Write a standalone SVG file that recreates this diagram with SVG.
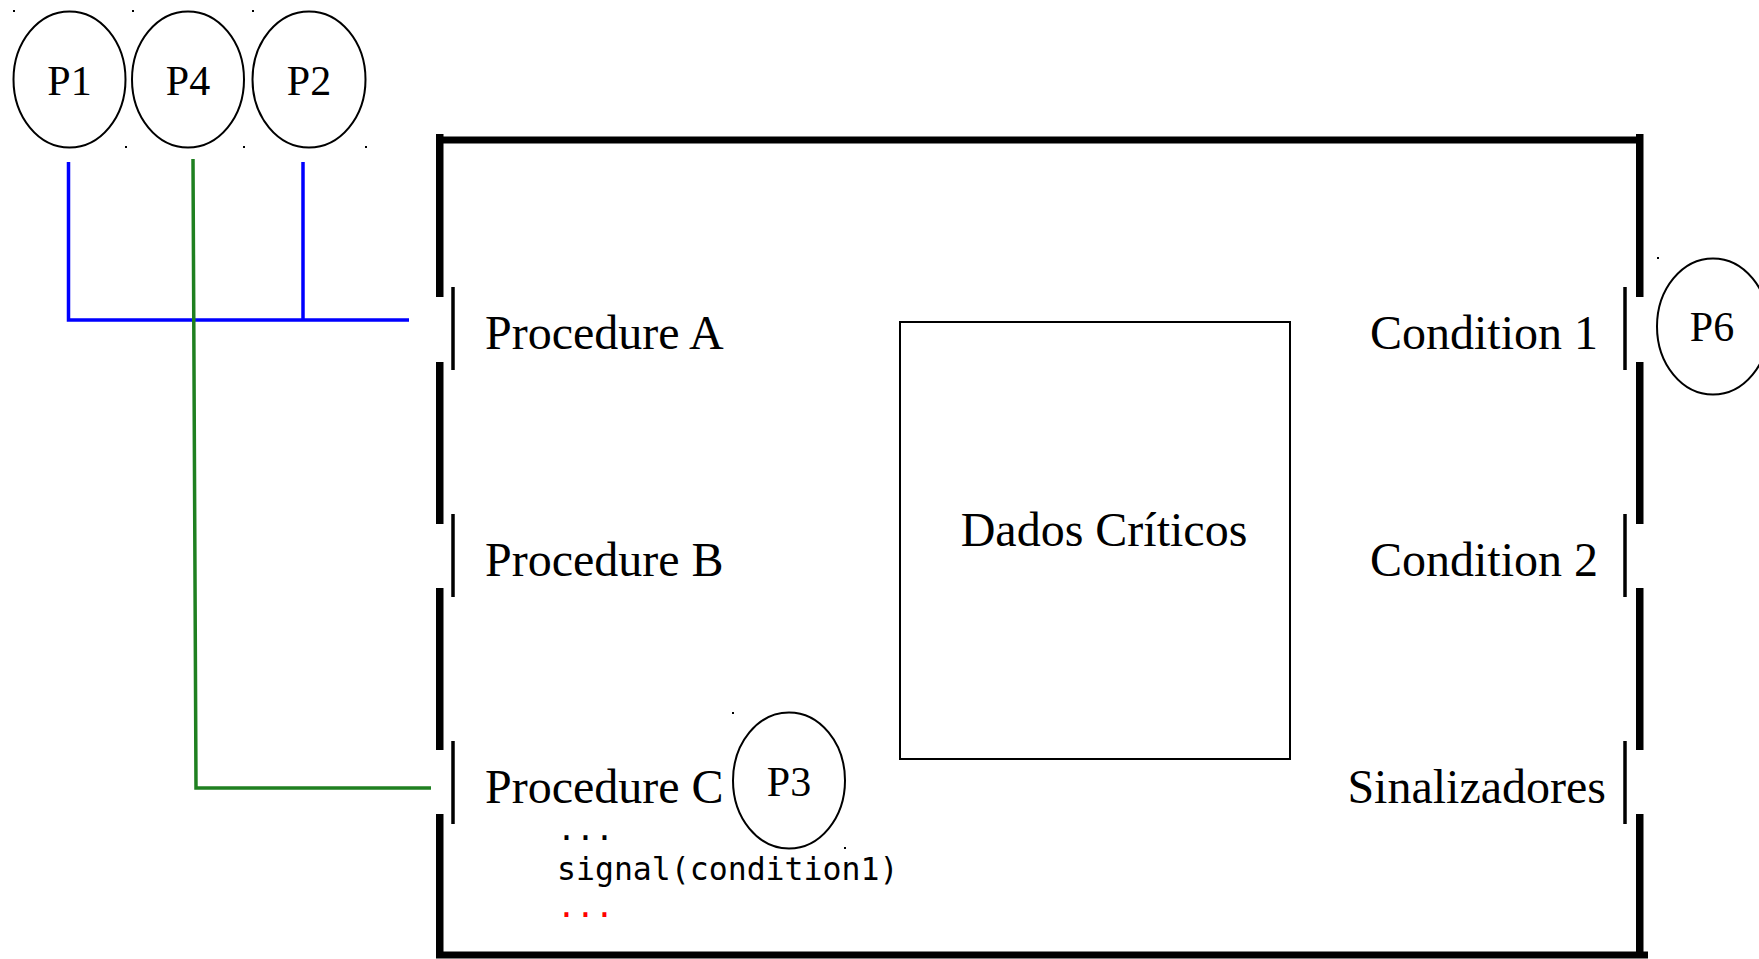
<svg xmlns="http://www.w3.org/2000/svg" width="1759" height="959" viewBox="0 0 1759 959">
<style>
.proc{fill:#fff;stroke:#000;stroke-width:2}
.lbl{font-family:"Liberation Serif",serif;font-size:48px;fill:#000}
.plbl{font-family:"Liberation Serif",serif;font-size:42px;fill:#000;text-anchor:middle}
.code{font-family:"DejaVu Sans Mono",monospace;font-size:31.5px;fill:#000}
.wall{fill:#000}
.gate{stroke:#000;stroke-width:3.5}
.dot{fill:#000}
</style>
<rect width="1759" height="959" fill="#fff"/>
<g id="monitor">
<rect class="wall" x="436" y="136.5" width="1207" height="7"/>
<rect class="wall" x="436" y="951.5" width="1212" height="7"/>
<rect class="wall" x="436" y="134" width="7.5" height="163"/>
<rect class="wall" x="436" y="362" width="7.5" height="162"/>
<rect class="wall" x="436" y="588" width="7.5" height="162"/>
<rect class="wall" x="436" y="814" width="7.5" height="144"/>
<rect class="wall" x="1636" y="134" width="7.5" height="163"/>
<rect class="wall" x="1636" y="362" width="7.5" height="162"/>
<rect class="wall" x="1636" y="588" width="7.5" height="162"/>
<rect class="wall" x="1636" y="814" width="7.5" height="144"/>
</g>
<g id="procA"><line class="gate" x1="453" y1="287" x2="453" y2="370"/><text class="lbl" x="485" y="349">Procedure A</text></g>
<g id="procB"><line class="gate" x1="453" y1="514" x2="453" y2="597"/><text class="lbl" x="485" y="576">Procedure B</text></g>
<g id="procC"><line class="gate" x1="453" y1="741" x2="453" y2="824"/><text class="lbl" x="485" y="803">Procedure C</text>
<text class="code" x="557" y="840">...</text>
<text class="code" x="557" y="880">signal(condition1)</text>
<text class="code" x="557" y="917" style="fill:#ff0000">...</text></g>
<g id="cond1"><line class="gate" x1="1625" y1="287" x2="1625" y2="370"/><text class="lbl" x="1598" y="349" text-anchor="end">Condition 1</text></g>
<g id="cond2"><line class="gate" x1="1625" y1="514" x2="1625" y2="597"/><text class="lbl" x="1598" y="576" text-anchor="end">Condition 2</text></g>
<g id="sinal"><line class="gate" x1="1625" y1="741" x2="1625" y2="824"/><text class="lbl" x="1606" y="803" text-anchor="end">Sinalizadores</text></g>
<g id="dados"><rect x="900" y="322" width="390" height="437" fill="none" stroke="#000" stroke-width="2"/><text class="lbl" x="1104" y="546" text-anchor="middle">Dados Críticos</text></g>
<g id="connectors" fill="none" stroke-width="3.5">
<polyline points="68.5,162 68.5,320 409,320" stroke="#0000ff"/>
<line x1="303" y1="162" x2="303" y2="320" stroke="#0000ff"/>
<polyline points="193,159 196,788 431,788" stroke="#1f8020"/>
</g>
<g id="P1"><ellipse class="proc" cx="69.5" cy="79.5" rx="56" ry="68"/><text class="plbl" x="69.5" y="94.5">P1</text><rect class="dot" x="13" y="10" width="2" height="2"/><rect class="dot" x="125" y="146" width="2" height="2"/></g>
<g id="P4"><ellipse class="proc" cx="188" cy="79.5" rx="56" ry="68"/><text class="plbl" x="188" y="94.5">P4</text><rect class="dot" x="132" y="10" width="2" height="2"/><rect class="dot" x="243" y="146" width="2" height="2"/></g>
<g id="P2"><ellipse class="proc" cx="309" cy="79.5" rx="56.5" ry="68"/><text class="plbl" x="309" y="94.5">P2</text><rect class="dot" x="252" y="10" width="2" height="2"/><rect class="dot" x="365" y="146" width="2" height="2"/></g>
<g id="P6"><ellipse class="proc" cx="1713" cy="326.5" rx="56" ry="68"/><text class="plbl" x="1712" y="341">P6</text><rect class="dot" x="1657" y="257" width="2" height="2"/></g>
<g id="P3"><ellipse class="proc" cx="789" cy="780.5" rx="56" ry="68"/><text class="plbl" x="789" y="795.5">P3</text><rect class="dot" x="732" y="712" width="2" height="2"/><rect class="dot" x="844" y="847" width="2" height="2"/></g>
</svg>
